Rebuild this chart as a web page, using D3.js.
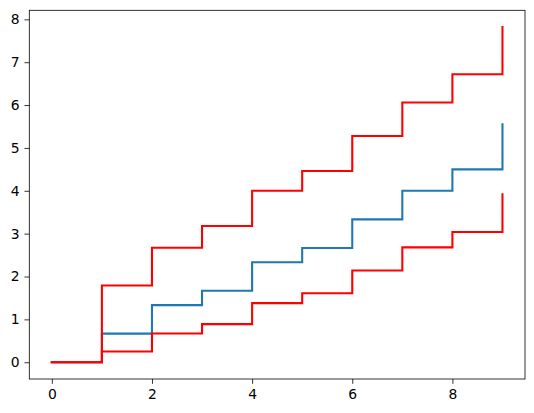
<!DOCTYPE html>
<html>
<head>
<meta charset="utf-8">
<script src="https://cdn.jsdelivr.net/npm/d3@7"></script>
<style>
  body { margin: 0; background: #fff; }
  .axis text { font-family: "DejaVu Sans", sans-serif; font-size: 13.9px; fill: #000; }
  .axis path, .axis line { stroke: #000; stroke-width: 0.8; }
</style>
</head>
<body>
<div id="chart"></div>
<script>
// step values (where = 'post')
const xs = [0, 1, 2, 3, 4, 5, 6, 7, 8, 9];
const mid = [0, 0.667, 1.333, 1.667, 2.333, 2.667, 3.333, 4.0, 4.5, 5.55];
const upper = [0, 1.79, 2.67, 3.18, 4.0, 4.46, 5.28, 6.06, 6.72, 7.82];
const lower = [0, 0.25, 0.67, 0.89, 1.38, 1.61, 2.14, 2.68, 3.04, 3.92];
const xTicks = [0, 2, 4, 6, 8];
const yTicks = [0, 1, 2, 3, 4, 5, 6, 7, 8];

const width = 534, height = 413;
const margin = { top: 10.3, right: 9, bottom: 34, left: 29.3 };

const svg = d3.select('#chart').append('svg')
	.attr('width', width)
	.attr('height', height);

// matplotlib style 5% padding
let xPad = (d3.max(xs) - d3.min(xs)) * 0.05;
let yMax = d3.max(upper), yMin = 0;
let yPad = (yMax - yMin) * 0.05;

const x = d3.scaleLinear()
	.domain([d3.min(xs) - xPad, d3.max(xs) + xPad])
	.range([margin.left, width - margin.right]);
const y = d3.scaleLinear()
	.domain([yMin - yPad, yMax + yPad])
	.range([height - margin.bottom, margin.top]);

const line = d3.line()
	.x(d => x(d[0]))
	.y(d => y(d[1]))
	.curve(d3.curveStepAfter);

let series = [
	{ vals: mid, color: '#1f77b4' },
	{ vals: upper, color: 'red' },
	{ vals: lower, color: 'red' }
];

const lines = svg.append('g').attr('class', 'lines');
series.forEach(s => {
	lines.append('path')
		.datum(xs.map((v, i) => [v, s.vals[i]]))
		.attr('d', line)
		.attr('fill', 'none')
		.attr('stroke', s.color)
		.attr('stroke-width', 2.08)
		.attr('stroke-linejoin', 'miter')
		.attr('stroke-linecap', 'square');
});

svg.append('g')
	.attr('class', 'axis')
	.attr('transform', 'translate(0,' + (height - margin.bottom) + ')')
	.call(d3.axisBottom(x).tickValues(xTicks).tickSize(4.86).tickPadding(4.9).tickSizeOuter(0))
	.select('.domain').remove();

svg.append('g')
	.attr('class', 'axis')
	.attr('transform', 'translate(' + margin.left + ',0)')
	.call(d3.axisLeft(y).tickValues(yTicks).tickSize(4.86).tickPadding(4.9).tickSizeOuter(0))
	.select('.domain').remove();

// frame
svg.append('rect')
	.attr('x', margin.left)
	.attr('y', margin.top)
	.attr('width', width - margin.right - margin.left)
	.attr('height', height - margin.bottom - margin.top)
	.attr('fill', 'none')
	.attr('stroke', '#000')
	.attr('stroke-width', 0.8);
</script>
</body>
</html>
